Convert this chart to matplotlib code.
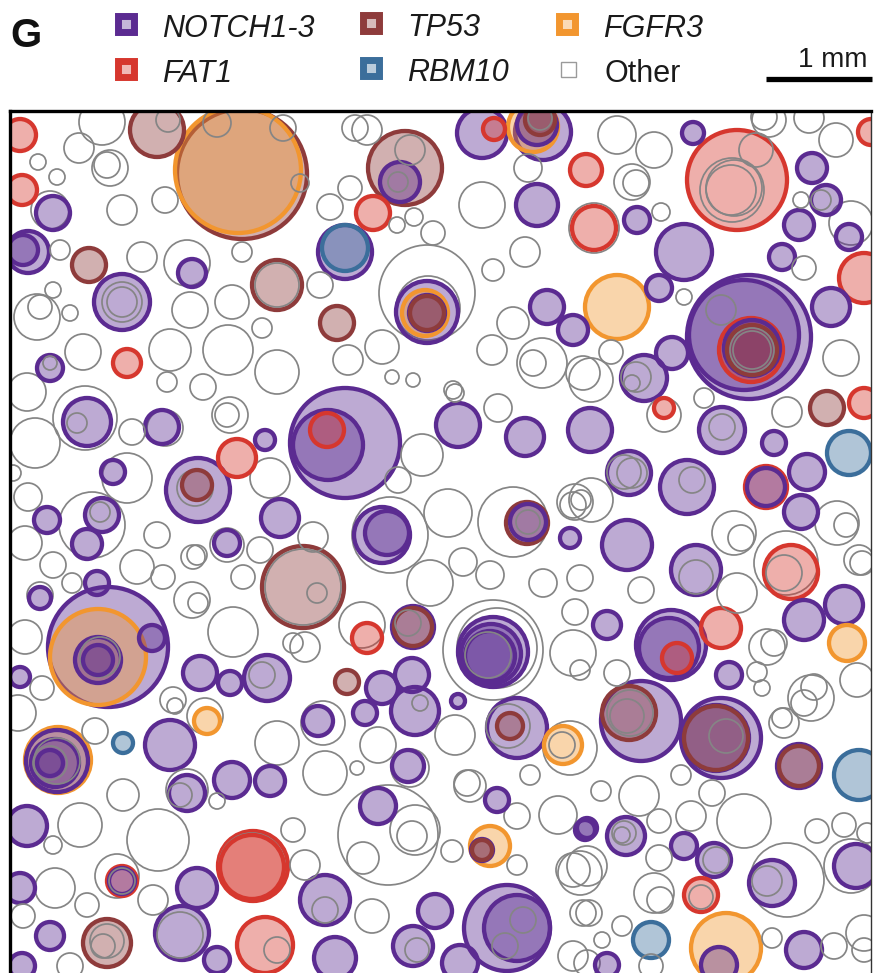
import matplotlib
matplotlib.use("Agg")
import matplotlib.pyplot as plt
from matplotlib.patches import Circle, Rectangle
from matplotlib.colors import to_rgba

# clone footprints per driver gene: (x, y, radius) in panel units (~98 units = 1 mm)
NOTCH = [
    (53, 213, 17), (28, 252, 21), (23, 250, 15), (192, 273, 14), (122, 302, 28),
    (50, 368, 13), (400, 182, 20), (345, 252, 27), (427, 312, 31), (427, 313, 18),
    (345, 443, 55), (328, 445, 35), (482, 133, 25), (543, 132, 28), (537, 125, 20),
    (537, 205, 21), (547, 307, 17), (573, 330, 15), (693, 133, 11), (812, 168, 15),
    (637, 220, 13), (684, 252, 28), (826, 200, 15), (799, 225, 15), (849, 237, 13),
    (782, 257, 13), (659, 288, 13), (749, 337, 62), (744, 335, 55), (752, 348, 28),
    (831, 307, 19), (672, 353, 16), (644, 378, 23), (87, 422, 24), (162, 427, 17),
    (265, 440, 10), (113, 472, 12), (198, 490, 32), (102, 515, 17), (87, 544, 15),
    (47, 520, 13), (280, 518, 19), (227, 543, 13), (40, 598, 11), (97, 583, 12),
    (108, 647, 60), (98, 660, 23), (98, 660, 15), (152, 638, 13), (20, 677, 10),
    (200, 673, 17), (230, 683, 12), (267, 678, 23), (458, 425, 22), (525, 437, 19),
    (590, 430, 22), (382, 535, 28), (387, 533, 22), (528, 522, 18), (570, 538, 10),
    (413, 627, 21), (493, 652, 35), (491, 654, 30), (490, 656, 25), (412, 675, 17),
    (722, 430, 23), (774, 443, 12), (629, 473, 22), (687, 487, 27), (766, 487, 19),
    (807, 472, 18), (801, 512, 17), (627, 545, 25), (696, 570, 25), (844, 605, 19),
    (804, 620, 20), (671, 645, 35), (669, 648, 30), (607, 625, 14), (729, 675, 13),
    (57, 761, 31), (55, 763, 24), (50, 763, 13), (170, 745, 25), (187, 793, 18),
    (232, 780, 18), (270, 781, 15), (27, 826, 20), (20, 888, 15), (197, 888, 20),
    (50, 936, 14), (182, 933, 27), (217, 960, 13), (22, 966, 13), (122, 881, 13),
    (382, 688, 16), (415, 711, 24), (458, 701, 7), (318, 721, 15), (365, 713, 12),
    (517, 728, 30), (408, 766, 16), (497, 800, 12), (585, 830, 10), (378, 806, 18),
    (482, 850, 11), (325, 900, 25), (435, 911, 17), (507, 928, 43), (517, 928, 33),
    (335, 958, 21), (413, 946, 20), (460, 963, 18), (641, 721, 40), (721, 738, 40),
    (716, 738, 33), (799, 766, 22), (587, 828, 10), (626, 836, 19), (684, 846, 13),
    (714, 860, 17), (772, 883, 23), (856, 866, 22), (719, 965, 18), (804, 950, 18),
    (607, 965, 12),
]
FAT1 = [
    (20, 135, 16), (22, 190, 15), (373, 213, 17), (127, 363, 14), (494, 129, 11),
    (586, 170, 16), (594, 228, 22), (871, 132, 13), (737, 180, 50), (864, 278, 25),
    (751, 350, 32), (237, 458, 19), (327, 430, 17), (664, 408, 10), (864, 403, 15),
    (766, 487, 21), (791, 572, 27), (721, 628, 20), (677, 658, 15), (367, 638, 15),
    (253, 866, 35), (252, 867, 32), (122, 881, 15), (265, 945, 28), (701, 895, 17),
]
TP53 = [
    (157, 130, 27), (242, 174, 65), (405, 168, 37), (89, 265, 17), (277, 285, 25),
    (337, 323, 17), (427, 313, 17), (540, 120, 15), (752, 350, 25), (197, 485, 15),
    (303, 587, 41), (413, 627, 19), (527, 523, 21), (827, 408, 17), (347, 682, 12),
    (510, 726, 13), (629, 713, 27), (716, 738, 32), (799, 766, 20), (107, 943, 24),
    (482, 850, 10),
]
RBM10 = [
    (345, 248, 23), (849, 453, 22), (123, 743, 10), (859, 775, 25), (651, 940, 18),
]
FGFR3 = [
    (238, 170, 63), (533, 127, 25), (617, 307, 32), (425, 313, 23), (98, 657, 48),
    (58, 760, 33), (207, 721, 13), (563, 745, 19), (490, 846, 20), (847, 643, 18),
    (726, 948, 35),
]
OTHER = [
    (102, 122, 23), (79, 148, 15), (38, 162, 8), (110, 168, 18), (107, 165, 13),
    (57, 177, 8), (168, 120, 12), (217, 123, 14), (283, 128, 13), (300, 183, 9),
    (50, 210, 19), (122, 210, 15), (165, 200, 13), (60, 250, 10), (142, 257, 15),
    (187, 263, 23), (242, 252, 10), (277, 285, 22), (53, 290, 8), (122, 302, 20),
    (122, 302, 15), (37, 317, 23), (40, 307, 12), (70, 313, 8), (190, 310, 18),
    (232, 302, 17), (262, 328, 10), (83, 352, 18), (170, 350, 21), (228, 350, 25),
    (277, 372, 22), (50, 363, 7), (27, 392, 19), (167, 382, 10), (203, 387, 13),
    (355, 128, 13), (367, 130, 15), (410, 150, 15), (398, 182, 10), (350, 188, 12),
    (330, 207, 13), (397, 225, 8), (414, 217, 9), (433, 233, 12), (320, 285, 13),
    (427, 293, 48), (428, 308, 32), (382, 347, 17), (348, 360, 15), (392, 377, 7),
    (413, 380, 7), (453, 390, 9), (540, 118, 12), (528, 168, 14), (482, 205, 23),
    (525, 252, 15), (493, 270, 11), (513, 323, 16), (492, 350, 15), (542, 363, 25),
    (533, 363, 13), (583, 373, 17), (594, 228, 25), (617, 135, 19), (654, 150, 18),
    (769, 120, 17), (764, 117, 13), (809, 118, 15), (756, 150, 17), (732, 190, 32),
    (731, 190, 25), (734, 188, 28), (836, 140, 17), (632, 182, 18), (636, 183, 13),
    (661, 212, 9), (821, 200, 10), (801, 200, 8), (851, 223, 22), (804, 268, 12),
    (684, 297, 8), (721, 310, 15), (752, 350, 22), (752, 350, 19), (841, 358, 18),
    (611, 352, 12), (636, 377, 15), (632, 383, 8), (591, 380, 22), (85, 418, 32),
    (77, 423, 10), (132, 432, 13), (165, 428, 18), (35, 443, 25), (230, 415, 18),
    (227, 415, 12), (127, 478, 25), (195, 488, 18), (270, 478, 20), (13, 473, 8),
    (28, 497, 14), (92, 525, 33), (100, 512, 10), (157, 535, 13), (25, 543, 17),
    (227, 545, 17), (193, 557, 12), (197, 555, 10), (260, 550, 13), (53, 565, 13),
    (137, 567, 17), (163, 577, 12), (243, 577, 12), (40, 595, 13), (72, 583, 10),
    (192, 600, 18), (198, 603, 10), (233, 632, 25), (25, 637, 17), (100, 657, 20),
    (293, 643, 10), (262, 675, 13), (498, 408, 14), (455, 393, 9), (422, 455, 21),
    (398, 480, 13), (448, 513, 24), (390, 535, 38), (313, 537, 15), (513, 522, 35),
    (528, 522, 12), (575, 502, 18), (573, 505, 13), (463, 562, 14), (490, 575, 14),
    (430, 583, 23), (543, 583, 14), (580, 578, 13), (362, 625, 23), (408, 623, 13),
    (575, 612, 13), (493, 650, 50), (497, 648, 40), (488, 655, 23), (305, 647, 15),
    (573, 653, 23), (580, 670, 10), (317, 593, 10), (303, 587, 38), (664, 415, 17),
    (704, 398, 10), (787, 412, 15), (722, 427, 13), (624, 472, 17), (632, 473, 15),
    (692, 480, 13), (591, 500, 22), (581, 500, 10), (837, 523, 22), (846, 525, 12),
    (734, 533, 22), (741, 538, 13), (696, 577, 17), (784, 573, 18), (786, 563, 32),
    (859, 560, 15), (862, 563, 12), (641, 590, 13), (737, 593, 20), (767, 647, 18),
    (774, 643, 13), (617, 673, 13), (757, 672, 10), (857, 680, 17), (814, 687, 13),
    (42, 688, 12), (18, 713, 18), (57, 761, 23), (50, 763, 17), (95, 731, 13),
    (173, 700, 13), (175, 706, 8), (205, 716, 18), (277, 743, 22), (187, 790, 21),
    (180, 795, 12), (217, 801, 8), (123, 795, 16), (80, 825, 22), (53, 845, 9),
    (158, 840, 31), (252, 866, 33), (293, 830, 12), (117, 876, 22), (122, 881, 13),
    (55, 888, 20), (87, 905, 12), (153, 900, 15), (23, 916, 12), (107, 941, 17),
    (103, 946, 12), (180, 935, 23), (277, 950, 13), (70, 966, 13), (420, 703, 8),
    (323, 723, 22), (508, 726, 22), (570, 748, 27), (562, 745, 13), (455, 735, 20),
    (378, 745, 18), (410, 768, 19), (357, 768, 7), (325, 773, 22), (470, 786, 16),
    (467, 783, 13), (530, 775, 10), (517, 816, 13), (558, 815, 19), (388, 835, 50),
    (415, 830, 25), (412, 836, 15), (363, 858, 16), (452, 851, 11), (517, 865, 10),
    (573, 870, 17), (580, 873, 22), (305, 865, 15), (325, 910, 13), (372, 916, 17),
    (523, 920, 13), (505, 946, 13), (583, 913, 13), (417, 950, 12), (573, 956, 15),
    (762, 688, 8), (811, 698, 23), (804, 703, 13), (630, 713, 23), (627, 716, 17),
    (726, 736, 17), (784, 723, 15), (782, 718, 10), (681, 775, 10), (601, 791, 10),
    (639, 796, 20), (712, 793, 13), (744, 821, 27), (691, 816, 15), (659, 821, 12),
    (624, 833, 12), (622, 835, 8), (716, 860, 13), (659, 858, 13), (817, 831, 12),
    (844, 825, 12), (867, 833, 10), (787, 880, 37), (767, 881, 15), (851, 866, 27),
    (587, 866, 20), (654, 893, 20), (660, 900, 13), (701, 897, 12), (589, 913, 13),
    (622, 926, 10), (772, 938, 10), (602, 940, 8), (587, 963, 13), (834, 946, 13),
    (864, 933, 18), (864, 950, 12), (651, 966, 12),
]

GENES = ["NOTCH1-3", "TP53", "FGFR3", "FAT1", "RBM10", "Other"]
COLORS = {
    "NOTCH1-3": "#5b2b91",
    "FAT1": "#d6372e",
    "TP53": "#8e3b3b",
    "RBM10": "#3b6e9b",
    "FGFR3": "#f2962f",
    "Other": "#858585",
}
CLONES = {
    "NOTCH1-3": NOTCH, "FAT1": FAT1, "TP53": TP53,
    "RBM10": RBM10, "FGFR3": FGFR3, "Other": OTHER,
}

W, H = 874, 973
fig = plt.figure(figsize=(W / 100, H / 100), dpi=100)

# main panel, one data unit per pixel
ax = fig.add_axes([10 / W, -12 / H, 861 / W, 874 / H])
ax.set_xlim(10, 871)
ax.set_ylim(985, 111)
ax.set_xticks([])
ax.set_yticks([])
for side in ("top", "left"):
    ax.spines[side].set_linewidth(2.4)
    ax.spines[side].set_color("black")
ax.spines["right"].set_linewidth(1.0)
ax.spines["right"].set_color("#333333")
ax.spines["bottom"].set_visible(False)

# largest clones first so nested ones sit on top
records = [(x, y, r, g) for g in GENES for (x, y, r) in CLONES[g]]
records.sort(key=lambda t: -t[2])
for x, y, r, g in records:
    if g == "Other":
        c = Circle((x, y), r, facecolor="none", edgecolor=COLORS[g], lw=1.25)
    else:
        c = Circle((x, y), r, facecolor=to_rgba(COLORS[g], 0.4),
                   edgecolor=COLORS[g], lw=3.1)
    ax.add_patch(c)

# header: panel letter, legend, scale bar
top = fig.add_axes([0, 0, 1, 1], facecolor="none")
top.set_xlim(0, W)
top.set_ylim(H, 0)
top.axis("off")

top.text(10, 47, "G", fontsize=29, family="Liberation Sans", weight="bold",
         color="#111111", va="baseline", ha="left")

legend_pos = {
    "NOTCH1-3": (126, 24), "TP53": (371, 23), "FGFR3": (567, 24),
    "FAT1": (126, 69), "RBM10": (371, 68), "Other": (568, 69),
}
for g, (cx, cy) in legend_pos.items():
    if g == "Other":
        top.add_patch(Rectangle((cx - 7.5, cy - 7.5), 15, 15, facecolor="white",
                                edgecolor="#9a9a9a", lw=1.0))
    else:
        top.add_patch(Rectangle((cx - 8, cy - 8), 16, 16,
                                facecolor=to_rgba(COLORS[g], 0.35),
                                edgecolor=COLORS[g], lw=5))
    base = cy + 13
    top.text(cx + 36, base, g, fontsize=22, family="Liberation Sans",
             style="normal" if g == "Other" else "italic", color="#1a1a1a",
             va="baseline", ha="left")

top.text(833, 67, "1 mm", fontsize=20, family="Liberation Sans",
         color="#1a1a1a", va="baseline", ha="center")
top.plot([766, 872], [79, 79], color="black", lw=3.8, solid_capstyle="butt")

fig.savefig("out.png", dpi=100)
